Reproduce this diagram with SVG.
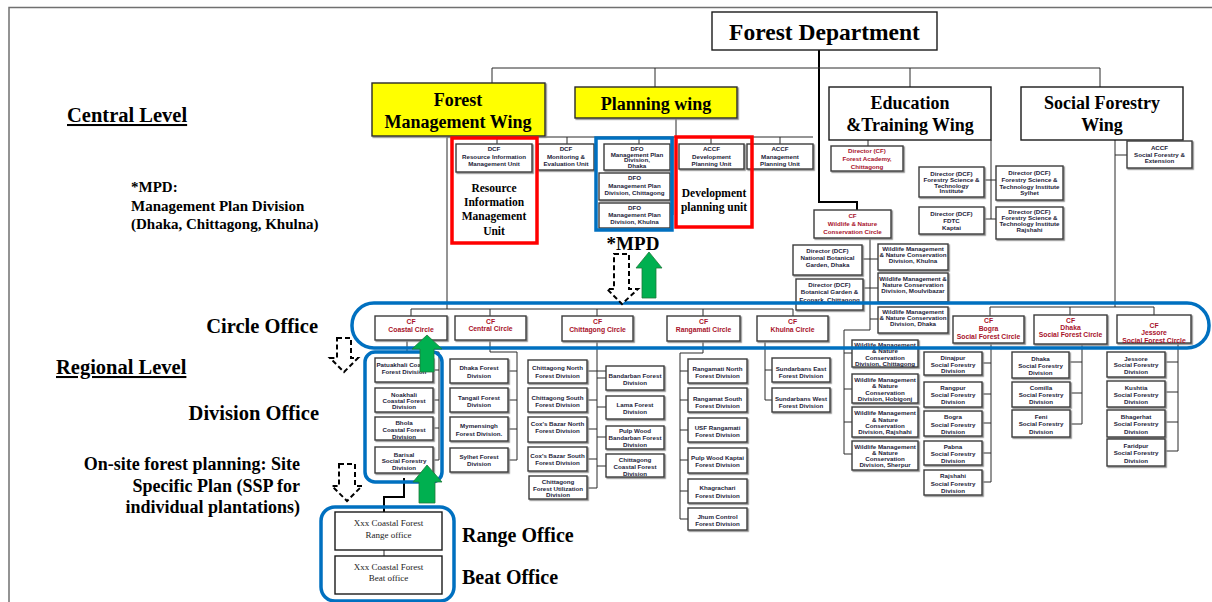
<svg xmlns="http://www.w3.org/2000/svg" width="1212" height="602" viewBox="0 0 1212 602">
<defs>
<filter id="sh" x="-10%" y="-10%" width="130%" height="130%"><feDropShadow dx="1.2" dy="1.2" stdDeviation="0.4" flood-color="#8a8a8a"/></filter>
<style>
.b{fill:#fff;stroke:#3a3a3a;stroke-width:1.4;filter:url(#sh)}
.y{fill:#ffff00;stroke:#2a2a2a;stroke-width:1.4;filter:url(#sh)}
.w{fill:#fff;stroke:#1a1a1a;stroke-width:1.4}
.t{font-family:"Liberation Sans",Arial,sans-serif;font-weight:bold;font-size:6.2px;fill:#1c1c38;text-anchor:middle}
.r{fill:#a8112a}
.tc{font-family:"Liberation Sans",Arial,sans-serif;font-weight:bold;font-size:6.8px;fill:#a8112a;text-anchor:middle}
.s{font-family:"Liberation Serif","Times New Roman",serif;font-weight:bold;fill:#000}
.m{text-anchor:middle}
.e{text-anchor:end}
.sr{font-family:"Liberation Serif","Times New Roman",serif;font-size:9px;fill:#222;text-anchor:middle}
.c{stroke:#2a2a2a;stroke-width:1;fill:none}
.ck{stroke:#000;stroke-width:2;fill:none}
.bl{fill:none;stroke:#0070c0;stroke-width:3.5}
.rd{fill:none;stroke:#ff0000;stroke-width:3.5}
.ga{fill:#00b050;stroke:#1f7a3a;stroke-width:0.8}
.da{fill:#fff;stroke:#000;stroke-width:2;stroke-dasharray:5 3}
</style>
</defs>
<rect width="1212" height="602" fill="#fff"/>
<path d="M9 602V7.5H1212" stroke="#707070" stroke-width="1.5" fill="none"/>

<g id="connectors">
<path class="ck" d="M819 50V202H857V210"/>
<path class="c" d="M492 68H1100M492 68V83M655 68V87M910 68V87M1100 68V87"/>
<path class="c" d="M447 136V309M676 118V137M447 137H813M497 137V144M567 137V144M639 137V144M711 137V144M780 137V144"/>
<path class="c" d="M673 137V215M670 157H673M670 187H673M670 215H673"/>
<path class="c" d="M868 140V146M991 140V219M984 180H996M984 219H996"/>
<path class="c" d="M1115 140V307M1115 155H1127M990 307H1154M990 307V316M1070 307V315M1154 307V315"/>
<path class="c" d="M870 238V330H844V454M862 259H878M863 288H878M870 319H878M844 353H852M844 389H852M844 422H852M844 454H852"/>
<path class="c" d="M411 309H793M411 309V316M490 309V316M597 309V316M703 309V316M793 309V316"/>
<path class="c" d="M407 340V352H439V460M433 370H439M433 400H439M433 428H439M433 460H439"/>
<path class="c" d="M490 340V352H517V460M508 371H517M508 400H517M508 429H517M508 460H517"/>
<path class="c" d="M597 341V488M587 371H606M587 400H597M587 429H597M587 459H597M587 488H597M597 378H606M597 407H606M597 437H606M597 466H606"/>
<path class="c" d="M703 341V353H680V519M680 371H688M680 400H688M680 430H688M680 460H688M680 491H688M680 519H688"/>
<path class="c" d="M765 341V400M765 370H772M765 400H772"/>
<path class="c" d="M991 343V482M982 363H991M982 394H991M982 423H991M982 453H991M982 482H991"/>
<path class="c" d="M1082 344V424M1069 362H1082M1070 393H1082M1070 424H1082"/>
<path class="c" d="M1178 343V451M1165 362H1178M1165 392H1178M1165 422H1178M1165 451H1178"/>
<path class="ck" d="M404 478V497H384V512"/>
<path class="c" d="M384 550V556"/>
</g>

<g id="forest-department"><rect class="w" x="712" y="12" width="225" height="38"/><text class="s m" x="824.5" y="40" font-size="23.5">Forest Department</text></g>
<g id="forest-management-wing"><rect class="y" x="372" y="83" width="173" height="53"/><text class="s m" x="458" font-size="18"><tspan x="458" y="106">Forest</tspan><tspan x="458" y="128">Management Wing</tspan></text></g>
<g id="planning-wing"><rect class="y" x="575" y="87" width="162" height="31"/><text class="s m" x="656" y="110" font-size="18">Planning wing</text></g>
<g id="education-wing"><rect class="w" x="829" y="87" width="162" height="53"/><text class="s m" font-size="18"><tspan x="910" y="109">Education</tspan><tspan x="910" y="131">&amp;Training Wing</tspan></text></g>
<g id="social-forestry-wing"><rect class="w" x="1021" y="87" width="162" height="53"/><text class="s m" font-size="18"><tspan x="1102" y="109">Social Forestry</tspan><tspan x="1102" y="131">Wing</tspan></text></g>

<g id="dcf-rim"><rect class="b" x="456" y="144" width="76" height="28"/><text class="t"><tspan x="494" y="150.5">DCF</tspan><tspan x="494" y="158.5">Resource Information</tspan><tspan x="494" y="165.5">Management  Unit</tspan></text></g>
<g id="dcf-me"><rect class="b" x="538" y="144" width="56" height="26"/><text class="t"><tspan x="566" y="150.5">DCF</tspan><tspan x="566" y="158.5">Monitoring &amp;</tspan><tspan x="566" y="165.5">Evaluation Unit</tspan></text></g>
<g id="mpd-dhaka"><rect class="b" x="604" y="144" width="66" height="26"/><text class="t"><tspan x="637" y="151">DFO</tspan><tspan x="637" y="156.5">Management Plan</tspan><tspan x="637" y="162">Division,</tspan><tspan x="637" y="168">Dhaka</tspan></text></g>
<g id="mpd-chittagong"><rect class="b" x="599" y="173" width="71" height="27"/><text class="t"><tspan x="634.5" y="180">DFO</tspan><tspan x="634.5" y="188">Management Plan</tspan><tspan x="634.5" y="194.5">Division, Chittagong</tspan></text></g>
<g id="mpd-khulna"><rect class="b" x="599" y="203" width="71" height="25"/><text class="t"><tspan x="634.5" y="209.5">DFO</tspan><tspan x="634.5" y="217">Management Plan</tspan><tspan x="634.5" y="224">Division, Khulna</tspan></text></g>
<g id="accf-dev"><rect class="b" x="679" y="144" width="65" height="25"/><text class="t"><tspan x="711.5" y="150.5">ACCF</tspan><tspan x="711.5" y="158.5">Development</tspan><tspan x="711.5" y="165.5">Planning Unit</tspan></text></g>
<g id="accf-mgmt"><rect class="b" x="747" y="144" width="66" height="25"/><text class="t"><tspan x="780" y="150.5">ACCF</tspan><tspan x="780" y="158.5">Management</tspan><tspan x="780" y="165.5">Planning Unit</tspan></text></g>

<g id="forest-academy"><rect class="b" x="831" y="146" width="72" height="25"/><text class="t r"><tspan x="867" y="153">Director (CF)</tspan><tspan x="867" y="161">Forest Academy,</tspan><tspan x="867" y="169">Chittagong</tspan></text></g>
<g id="fsti"><rect class="b" x="919" y="167" width="65" height="30"/><text class="t"><tspan x="951.5" y="176">Director (DCF)</tspan><tspan x="951.5" y="182">Forestry Science &amp;</tspan><tspan x="951.5" y="187.5">Technology</tspan><tspan x="951.5" y="193">Institute</tspan></text></g>
<g id="fsti-sylhet"><rect class="b" x="996" y="166" width="67" height="34"/><text class="t"><tspan x="1029.5" y="175">Director (DCF)</tspan><tspan x="1029.5" y="182">Forestry Science &amp;</tspan><tspan x="1029.5" y="188.5">Technology Institute</tspan><tspan x="1029.5" y="194.5">Sylhet</tspan></text></g>
<g id="fdtc"><rect class="b" x="919" y="207" width="65" height="27"/><text class="t"><tspan x="951.5" y="216">Director (DCF)</tspan><tspan x="951.5" y="223">FDTC</tspan><tspan x="951.5" y="230">Kaptai</tspan></text></g>
<g id="fsti-rajshahi"><rect class="b" x="996" y="207" width="67" height="32"/><text class="t"><tspan x="1029.5" y="214">Director (DCF)</tspan><tspan x="1029.5" y="219.5">Forestry Science &amp;</tspan><tspan x="1029.5" y="225.5">Technology Institute</tspan><tspan x="1029.5" y="232">Rajshahi</tspan></text></g>
<g id="accf-sfe"><rect class="b" x="1127" y="141" width="65" height="27"/><text class="t"><tspan x="1159.5" y="150">ACCF</tspan><tspan x="1159.5" y="156.5">Social Forestry &amp;</tspan><tspan x="1159.5" y="162.5">Extension</tspan></text></g>
<g id="cf-wildlife"><rect class="b" x="814" y="210" width="77" height="28"/><text class="t r"><tspan x="852.5" y="218">CF</tspan><tspan x="852.5" y="226">Wildlife &amp; Nature</tspan><tspan x="852.5" y="233.5">Conservation Circle</tspan></text></g>

<g id="national-botanical"><rect class="b" x="793" y="245" width="69" height="30"/><text class="t"><tspan x="827.5" y="252.5">Director (DCF)</tspan><tspan x="827.5" y="259.5">National Botanical</tspan><tspan x="827.5" y="266.5">Garden, Dhaka</tspan></text></g>
<g id="botanical-ecopark"><rect class="b" x="796" y="279" width="67" height="31"/><text class="t"><tspan x="829.5" y="286.5">Director (DCF)</tspan><tspan x="829.5" y="294">Botanical Garden &amp;</tspan><tspan x="829.5" y="301.5">Ecopark, Chittagong</tspan></text></g>
<g id="wm-khulna"><rect class="b" x="878" y="244" width="70" height="26"/><text class="t"><tspan x="913" y="250.5">Wildlife Management</tspan><tspan x="913" y="256.5">&amp; Nature Conservation</tspan><tspan x="913" y="262.5">Division, Khulna</tspan></text></g>
<g id="wm-moulvibazar"><rect class="b" x="878" y="273" width="70" height="29"/><text class="t"><tspan x="913" y="281">Wildlife Management &amp;</tspan><tspan x="913" y="287">Nature Conservation</tspan><tspan x="913" y="292.5">Division, Moulvibazar</tspan></text></g>
<g id="wm-dhaka"><rect class="b" x="878" y="307" width="70" height="26"/><text class="t"><tspan x="913" y="313.5">Wildlife Management</tspan><tspan x="913" y="319.5">&amp; Nature Conservation</tspan><tspan x="913" y="325.5">Division, Dhaka</tspan></text></g>

<g id="wm-chittagong"><rect class="b" x="852" y="340" width="66" height="27"/><text class="t"><tspan x="885" y="346.5">Wildlife Management</tspan><tspan x="885" y="353">&amp; Nature</tspan><tspan x="885" y="359.5">Conservation</tspan><tspan x="885" y="365.5">Division, Chittagong</tspan></text></g>
<g id="wm-hobigonj"><rect class="b" x="852" y="374" width="66" height="29"/><text class="t"><tspan x="885" y="381.5">Wildlife Management</tspan><tspan x="885" y="388">&amp; Nature</tspan><tspan x="885" y="394.5">Conservation</tspan><tspan x="885" y="401">Division, Hobigonj</tspan></text></g>
<g id="wm-rajshahi"><rect class="b" x="852" y="407" width="66" height="30"/><text class="t"><tspan x="885" y="415">Wildlife Management</tspan><tspan x="885" y="421.5">&amp; Nature</tspan><tspan x="885" y="428">Conservation</tspan><tspan x="885" y="434">Division, Rajshahi</tspan></text></g>
<g id="wm-sherpur"><rect class="b" x="852" y="441" width="66" height="29"/><text class="t"><tspan x="885" y="448.5">Wildlife Management</tspan><tspan x="885" y="455">&amp; Nature</tspan><tspan x="885" y="461">Conservation</tspan><tspan x="885" y="467">Division, Sherpur</tspan></text></g>

<g id="sfd-dinajpur"><rect class="b" x="924" y="352" width="58" height="23"/><text class="t"><tspan x="953" y="360">Dinajpur</tspan><tspan x="953" y="366.5">Social Forestry</tspan><tspan x="953" y="373">Division</tspan></text></g>
<g id="sfd-rangpur"><rect class="b" x="924" y="382" width="58" height="25"/><text class="t"><tspan x="953" y="389.5">Rangpur</tspan><tspan x="953" y="397">Social Forestry</tspan><tspan x="953" y="404">Division</tspan></text></g>
<g id="sfd-bogra"><rect class="b" x="924" y="411" width="58" height="25"/><text class="t"><tspan x="953" y="419">Bogra</tspan><tspan x="953" y="426.5">Social Forestry</tspan><tspan x="953" y="434">Division</tspan></text></g>
<g id="sfd-pabna"><rect class="b" x="924" y="441" width="58" height="24"/><text class="t"><tspan x="953" y="449">Pabna</tspan><tspan x="953" y="456">Social Forestry</tspan><tspan x="953" y="463">Division</tspan></text></g>
<g id="sfd-rajshahi"><rect class="b" x="924" y="470" width="58" height="25"/><text class="t"><tspan x="953" y="478">Rajshahi</tspan><tspan x="953" y="485.5">Social Forestry</tspan><tspan x="953" y="493">Division</tspan></text></g>

<g id="sfd-dhaka"><rect class="b" x="1012" y="352" width="57" height="26"/><text class="t"><tspan x="1040.5" y="361">Dhaka</tspan><tspan x="1040.5" y="368">Social Forestry</tspan><tspan x="1040.5" y="375">Division</tspan></text></g>
<g id="sfd-comilla"><rect class="b" x="1012" y="382" width="58" height="25"/><text class="t"><tspan x="1041" y="390">Comilla</tspan><tspan x="1041" y="397">Social Forestry</tspan><tspan x="1041" y="404">Division</tspan></text></g>
<g id="sfd-feni"><rect class="b" x="1012" y="410" width="58" height="27"/><text class="t"><tspan x="1041" y="419">Feni</tspan><tspan x="1041" y="426">Social Forestry</tspan><tspan x="1041" y="434">Division</tspan></text></g>

<g id="sfd-jessore"><rect class="b" x="1107" y="352" width="58" height="25"/><text class="t"><tspan x="1136" y="361">Jessore</tspan><tspan x="1136" y="367">Social Forestry</tspan><tspan x="1136" y="373.5">Division</tspan></text></g>
<g id="sfd-kushtia"><rect class="b" x="1107" y="381" width="58" height="26"/><text class="t"><tspan x="1136" y="390">Kushtia</tspan><tspan x="1136" y="397">Social Forestry</tspan><tspan x="1136" y="404">Division</tspan></text></g>
<g id="sfd-bhagerhat"><rect class="b" x="1107" y="410" width="58" height="27"/><text class="t"><tspan x="1136" y="419">Bhagerhat</tspan><tspan x="1136" y="426">Social Forestry</tspan><tspan x="1136" y="434">Division</tspan></text></g>
<g id="sfd-faridpur"><rect class="b" x="1107" y="439" width="58" height="27"/><text class="t"><tspan x="1136" y="448">Faridpur</tspan><tspan x="1136" y="455">Social Forestry</tspan><tspan x="1136" y="463">Division</tspan></text></g>

<g id="cf-coastal"><rect class="b" x="375" y="316" width="72" height="24"/><text class="tc"><tspan x="411" y="323.5">CF</tspan><tspan x="411" y="331.5">Coastal Circle</tspan></text></g>
<g id="cf-central"><rect class="b" x="455" y="316" width="71" height="24"/><text class="tc"><tspan x="490.5" y="323.5">CF</tspan><tspan x="490.5" y="330.5">Central Circle</tspan></text></g>
<g id="cf-chittagong"><rect class="b" x="562" y="316" width="71" height="25"/><text class="tc"><tspan x="597.5" y="323.5">CF</tspan><tspan x="597.5" y="331.5">Chittagong Circle</tspan></text></g>
<g id="cf-rangamati"><rect class="b" x="667" y="316" width="73" height="25"/><text class="tc"><tspan x="703.5" y="323.5">CF</tspan><tspan x="703.5" y="331.5">Rangamati Circle</tspan></text></g>
<g id="cf-khulna"><rect class="b" x="757" y="316" width="71" height="25"/><text class="tc"><tspan x="792.5" y="323.5">CF</tspan><tspan x="792.5" y="331.5">Khulna Circle</tspan></text></g>
<g id="cf-bogra"><rect class="b" x="953" y="316" width="71" height="27"/><text class="tc"><tspan x="988.5" y="322.5">CF</tspan><tspan x="988.5" y="330.5">Bogra</tspan><tspan x="988.5" y="338.5">Social Forest Circle</tspan></text></g>
<g id="cf-dhaka-sf"><rect class="b" x="1034" y="315" width="73" height="29"/><text class="tc"><tspan x="1070.5" y="323">CF</tspan><tspan x="1070.5" y="329.5">Dhaka</tspan><tspan x="1070.5" y="336.5">Social Forest Circle</tspan></text></g>
<g id="cf-jessore-sf"><rect class="b" x="1117" y="315" width="74" height="28"/><text class="tc"><tspan x="1154" y="328">CF</tspan><tspan x="1154" y="335">Jessore</tspan><tspan x="1154" y="343">Social Forest Circle</tspan></text></g>

<g id="fd-patuakhali"><rect class="b" x="375" y="358" width="58" height="24"/><text class="t"><tspan x="404" y="366.5">Patuakhali Coastal</tspan><tspan x="404" y="373.5">Forest Division</tspan></text></g>
<g id="fd-noakhali"><rect class="b" x="375" y="388" width="58" height="24"/><text class="t"><tspan x="404" y="396.5">Noakhali</tspan><tspan x="404" y="402.5">Coastal Forest</tspan><tspan x="404" y="408.5">Division</tspan></text></g>
<g id="fd-bhola"><rect class="b" x="375" y="417" width="58" height="23"/><text class="t"><tspan x="404" y="425">Bhola</tspan><tspan x="404" y="432">Coastal Forest</tspan><tspan x="404" y="439">Division</tspan></text></g>
<g id="fd-barisal"><rect class="b" x="375" y="447" width="58" height="26"/><text class="t"><tspan x="404" y="456.5">Barisal</tspan><tspan x="404" y="463">Social Forestry</tspan><tspan x="404" y="469.5">Division</tspan></text></g>

<g id="fd-dhaka"><rect class="b" x="450" y="359" width="58" height="24"/><text class="t"><tspan x="479" y="370">Dhaka Forest</tspan><tspan x="479" y="378">Division</tspan></text></g>
<g id="fd-tangail"><rect class="b" x="450" y="388" width="58" height="24"/><text class="t"><tspan x="479" y="400">Tangail Forest</tspan><tspan x="479" y="406.5">Division</tspan></text></g>
<g id="fd-mymensingh"><rect class="b" x="450" y="417" width="58" height="24"/><text class="t"><tspan x="479" y="428">Mymensingh</tspan><tspan x="479" y="435.5">Forest Division.</tspan></text></g>
<g id="fd-sylhet"><rect class="b" x="450" y="448" width="58" height="24"/><text class="t"><tspan x="479" y="458.5">Sylhet Forest</tspan><tspan x="479" y="465.5">Division</tspan></text></g>

<g id="fd-ctg-north"><rect class="b" x="528" y="360" width="59" height="23"/><text class="t"><tspan x="557.5" y="370">Chittagong North</tspan><tspan x="557.5" y="377.5">Forest Division</tspan></text></g>
<g id="fd-ctg-south"><rect class="b" x="528" y="388" width="59" height="24"/><text class="t"><tspan x="557.5" y="400">Chittagong South</tspan><tspan x="557.5" y="406.5">Forest Division</tspan></text></g>
<g id="fd-cox-north"><rect class="b" x="528" y="417" width="59" height="25"/><text class="t"><tspan x="557.5" y="425.5">Cox's Bazar North</tspan><tspan x="557.5" y="432.5">Forest Division</tspan></text></g>
<g id="fd-cox-south"><rect class="b" x="528" y="447" width="59" height="24"/><text class="t"><tspan x="557.5" y="457.5">Cox's Bazar South</tspan><tspan x="557.5" y="465">Forest Division</tspan></text></g>
<g id="fd-ctg-util"><rect class="b" x="529" y="476" width="58" height="23"/><text class="t"><tspan x="558" y="484">Chittagong</tspan><tspan x="558" y="490.5">Forest Utilization</tspan><tspan x="558" y="496.5">Division</tspan></text></g>
<g id="fd-bandarban"><rect class="b" x="606" y="366" width="58" height="24"/><text class="t"><tspan x="635" y="377.5">Bandarban Forest</tspan><tspan x="635" y="385">Division</tspan></text></g>
<g id="fd-lama"><rect class="b" x="606" y="396" width="58" height="23"/><text class="t"><tspan x="635" y="407">Lama Forest</tspan><tspan x="635" y="414">Division</tspan></text></g>
<g id="fd-pulp-bandarban"><rect class="b" x="606" y="426" width="58" height="23"/><text class="t"><tspan x="635" y="433">Pulp Wood</tspan><tspan x="635" y="440">Bandarban Forest</tspan><tspan x="635" y="447">Division</tspan></text></g>
<g id="fd-ctg-coastal"><rect class="b" x="606" y="454" width="58" height="23"/><text class="t"><tspan x="635" y="461.5">Chittagong</tspan><tspan x="635" y="469">Coastal Forest</tspan><tspan x="635" y="476">Division</tspan></text></g>

<g id="fd-rangamati-north"><rect class="b" x="688" y="359" width="59" height="24"/><text class="t"><tspan x="717.5" y="370.5">Rangamati North</tspan><tspan x="717.5" y="378">Forest Division</tspan></text></g>
<g id="fd-rangamati-south"><rect class="b" x="688" y="388" width="59" height="24"/><text class="t"><tspan x="717.5" y="400.5">Rangamat South</tspan><tspan x="717.5" y="407.5">Forest Division</tspan></text></g>
<g id="fd-usf"><rect class="b" x="688" y="418" width="59" height="24"/><text class="t"><tspan x="717.5" y="429.5">USF Rangamati</tspan><tspan x="717.5" y="436.5">Forest Division</tspan></text></g>
<g id="fd-pulp-kaptai"><rect class="b" x="688" y="448" width="59" height="25"/><text class="t"><tspan x="717.5" y="459.5">Pulp Wood Kaptai</tspan><tspan x="717.5" y="467">Forest Division</tspan></text></g>
<g id="fd-khagrachari"><rect class="b" x="688" y="479" width="59" height="24"/><text class="t"><tspan x="717.5" y="490">Khagrachari</tspan><tspan x="717.5" y="497.5">Forest Division</tspan></text></g>
<g id="fd-jhum"><rect class="b" x="688" y="508" width="59" height="22"/><text class="t"><tspan x="717.5" y="519">Jhum Control</tspan><tspan x="717.5" y="525.5">Forest Division</tspan></text></g>

<g id="fd-sundarbans-east"><rect class="b" x="772" y="358" width="58" height="24"/><text class="t"><tspan x="801" y="370.5">Sundarbans East</tspan><tspan x="801" y="378">Forest Division</tspan></text></g>
<g id="fd-sundarbans-west"><rect class="b" x="772" y="388" width="58" height="24"/><text class="t"><tspan x="801" y="400.5">Sundarbans West</tspan><tspan x="801" y="407.5">Forest Division</tspan></text></g>

<g id="range-office"><rect class="w" x="335" y="512" width="107" height="38"/><text class="sr"><tspan x="388.5" y="526">Xxx Coastal Forest</tspan><tspan x="388.5" y="537.5">Range office</tspan></text></g>
<g id="beat-office"><rect class="w" x="335" y="556" width="107" height="38"/><text class="sr"><tspan x="388.5" y="570">Xxx Coastal Forest</tspan><tspan x="388.5" y="581">Beat office</tspan></text></g>

<g id="highlights">
<rect class="rd" x="452" y="138" width="85" height="105"/>
<text class="s m" font-size="11.5"><tspan x="494" y="192">Resource</tspan><tspan x="494" y="206">Information</tspan><tspan x="494" y="220">Management</tspan><tspan x="494" y="235">Unit</tspan></text>
<rect class="bl" x="596" y="138" width="76" height="92"/>
<rect class="rd" x="676" y="137" width="76" height="90"/>
<text class="s m" font-size="11.5"><tspan x="714" y="197">Development</tspan><tspan x="714" y="211">planning unit</tspan></text>
<rect class="bl" x="352" y="303" width="857" height="45" rx="22"/>
<rect class="bl" x="365" y="352" width="77" height="130" rx="10"/>
<rect class="bl" x="321" y="507" width="133" height="94" rx="14"/>
</g>

<g id="arrows">
<polygon class="ga" points="649,252 662,268 656,268 656,298 642,298 642,268 636,268"/>
<polygon class="ga" points="427,335 442,349 434,349 434,372 420,372 420,349 412,349"/>
<polygon class="ga" points="427,465 442,482 435,482 435,503 419,503 419,482 413,482"/>
<polygon class="da" points="614,254 629,254 629,289 638,289 622,304 607,289 614,289"/>
<polygon class="da" points="337,338 351,338 351,358 358,358 344,372 330,358 337,358"/>
<polygon class="da" points="339,464 355,464 355,486 362,486 347,501 332,486 339,486"/>
</g>

<g id="labels">
<text class="s" x="67" y="122" font-size="20.5" text-decoration="underline">Central Level</text>
<text class="s" font-size="15"><tspan x="131" y="192">*MPD:</tspan><tspan x="131" y="211">Management Plan Division</tspan><tspan x="131" y="229">(Dhaka, Chittagong, Khulna)</tspan></text>
<text class="s m" x="633" y="250" font-size="19">*MPD</text>
<text class="s e" x="318" y="333" font-size="20.5">Circle Office</text>
<text class="s" x="56" y="374" font-size="20.5" text-decoration="underline">Regional Level</text>
<text class="s e" x="319" y="420" font-size="20.5">Division Office</text>
<text class="s e" font-size="18"><tspan x="300" y="470">On-site forest planning: Site</tspan><tspan x="300" y="492">Specific Plan (SSP for</tspan><tspan x="300" y="513">individual plantations)</tspan></text>
<text class="s" x="462" y="542" font-size="20">Range Office</text>
<text class="s" x="462" y="584" font-size="20">Beat Office</text>
</g>
</svg>
